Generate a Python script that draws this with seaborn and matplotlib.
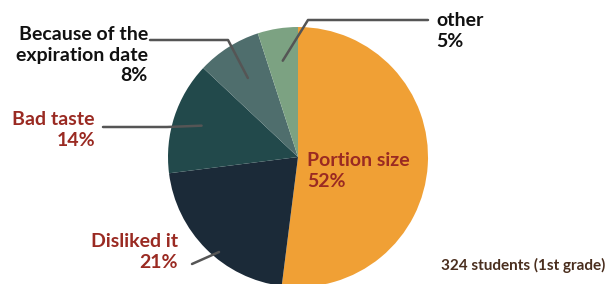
import numpy as np
import matplotlib
matplotlib.use("Agg")
import matplotlib.pyplot as plt
import seaborn as sns

categories = ["Portion size", "Disliked it", "Bad taste", "Because of the\nexpiration date", "other"]
shares = [52, 21, 14, 8, 5]
colors = ["#F0A035", "#1B2A38", "#22494B", "#4F6E6D", "#7CA282"]
note = "324 students (1st grade)"

sns.set_theme(style="white")
plt.rcParams['font.family'] = ['Lato', 'DejaVu Sans']

W, H = 607, 284
fig = plt.figure(figsize=(W / 100, H / 100), dpi=100)
ax = fig.add_axes([0, 0, 1, 1])
cx, cy, R = 298, 157, 130

wedges, _ = ax.pie(shares, colors=colors, startangle=90, counterclock=False,
                   radius=1, center=(0, 0), wedgeprops=dict(linewidth=0))
ax.set_xlim(-cx / R, (W - cx) / R)
ax.set_ylim(-(H - cy) / R, cy / R)
ax.set_aspect("equal")
ax.axis("off")


def px(x, y):
    return ((x - cx) / R, (cy - y) / R)


def mid(i, frac):
    w = wedges[i]
    a = np.deg2rad((w.theta1 + w.theta2) / 2)
    return (frac * np.cos(a), frac * np.sin(a))


red = "#9A2A22"
black = "#111111"
fs = 14
ls = 1.25
lc = "#555555"

# Portion size label inside
ax.text(*px(307, 171), f"{categories[0]}\n{shares[0]}%", color=red, fontsize=fs,
        fontweight="bold", ha="left", va="center", linespacing=ls)

# other
p0 = mid(4, 0.75)
k1 = px(308, 20)
k2 = px(428, 20)
ax.plot([p0[0], k1[0], k2[0]], [p0[1], k1[1], k2[1]], color=lc, lw=1.8)
ax.text(*px(436, 31), f"{categories[4]}\n{shares[4]}%", color=black, fontsize=fs,
        fontweight="bold", ha="left", va="center", linespacing=ls)

# expiration
p0 = mid(3, 0.72)
k1 = px(228, 40)
k2 = px(150, 40)
ax.plot([p0[0], k1[0], k2[0]], [p0[1], k1[1], k2[1]], color=lc, lw=1.8)
ax.text(*px(148, 55), f"{categories[3]}\n{shares[3]}%", color=black, fontsize=fs,
        fontweight="bold", ha="right", va="center", linespacing=ls, multialignment="right")

# Bad taste
p0 = mid(2, 0.78)
k1 = px(167, 127)
k2 = px(103, 127)
ax.plot([p0[0], k1[0], k2[0]], [p0[1], k1[1], k2[1]], color=lc, lw=1.8)
ax.text(*px(95, 130), f"{categories[2]}\n{shares[2]}%", color=red, fontsize=fs,
        fontweight="bold", ha="right", va="center", linespacing=ls, multialignment="right")

# Disliked it
p0 = px(219, 252)
k1 = px(192, 264)
ax.plot([p0[0], k1[0]], [p0[1], k1[1]], color=lc, lw=1.8)
ax.text(*px(178, 252), f"{categories[1]}\n{shares[1]}%", color=red, fontsize=fs,
        fontweight="bold", ha="right", va="center", linespacing=ls, multialignment="right")

ax.text(*px(441, 265), note, color="#4A2E1E", fontsize=11, fontweight="bold",
        ha="left", va="center")

fig.savefig("out.png", dpi=100)
